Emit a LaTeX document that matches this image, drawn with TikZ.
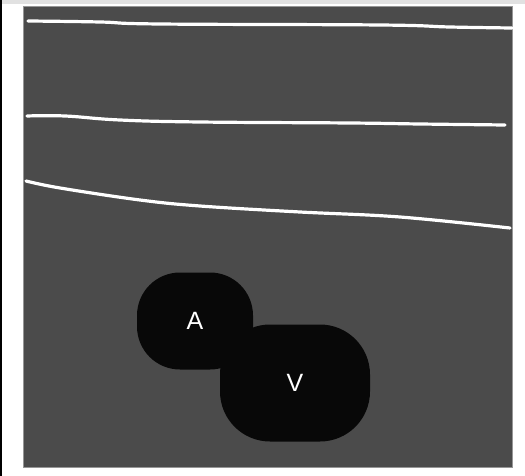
\documentclass[tikz,border=0pt]{standalone}
\usepackage{fontspec}
\setmainfont{Liberation Sans}
\usetikzlibrary{positioning}
\definecolor{scan-gray}{RGB}{75, 75, 75}
\definecolor{scan-edge}{RGB}{150, 150, 150}
\definecolor{frame-gray}{RGB}{225, 225, 225}
\definecolor{vessel-black}{RGB}{8, 8, 8}
\tikzset{
  wall/.style={draw=white, line width=3.2pt, line cap=round},
  vessel/.style={fill=vessel-black, draw=none, rectangle, text=white,
    font=\fontsize{25}{28}\selectfont, inner sep=0pt}
}

\begin{document}
\begin{tikzpicture}[x=1pt, y=-1pt]
\useasboundingbox (0,0) rectangle (525,476);
\fill[white] (0,0) rectangle (525,476);
\fill[frame-gray] (0,0) rectangle (525,4);
\fill[black] (0,0) rectangle (2,476);
% scan field
\filldraw[fill=scan-gray, draw=scan-edge, line width=0.8pt] (23,6) rectangle (512,467);
% tissue layers
\draw[wall] plot[smooth, tension=0.7] coordinates {(28,21) (100,22) (160,24) (380,25) (450,27) (512,28)};
\draw[wall] plot[smooth, tension=0.7] coordinates {(27,116) (65,116) (120,120) (200,122) (350,123) (420,124) (505,125)};
\draw[wall] plot[smooth, tension=0.6] coordinates {(26,181) (60,188) (140,200) (200,206) (300,212) (400,217) (510,228)};
% vessels
\node[vessel, minimum width=150pt, minimum height=117pt, rounded corners=50pt] (vein) at (295,383) {V};
\node[vessel, minimum width=116pt, minimum height=97pt, rounded corners=43pt] (artery) at (195,321) {A};
\end{tikzpicture}
\end{document}
